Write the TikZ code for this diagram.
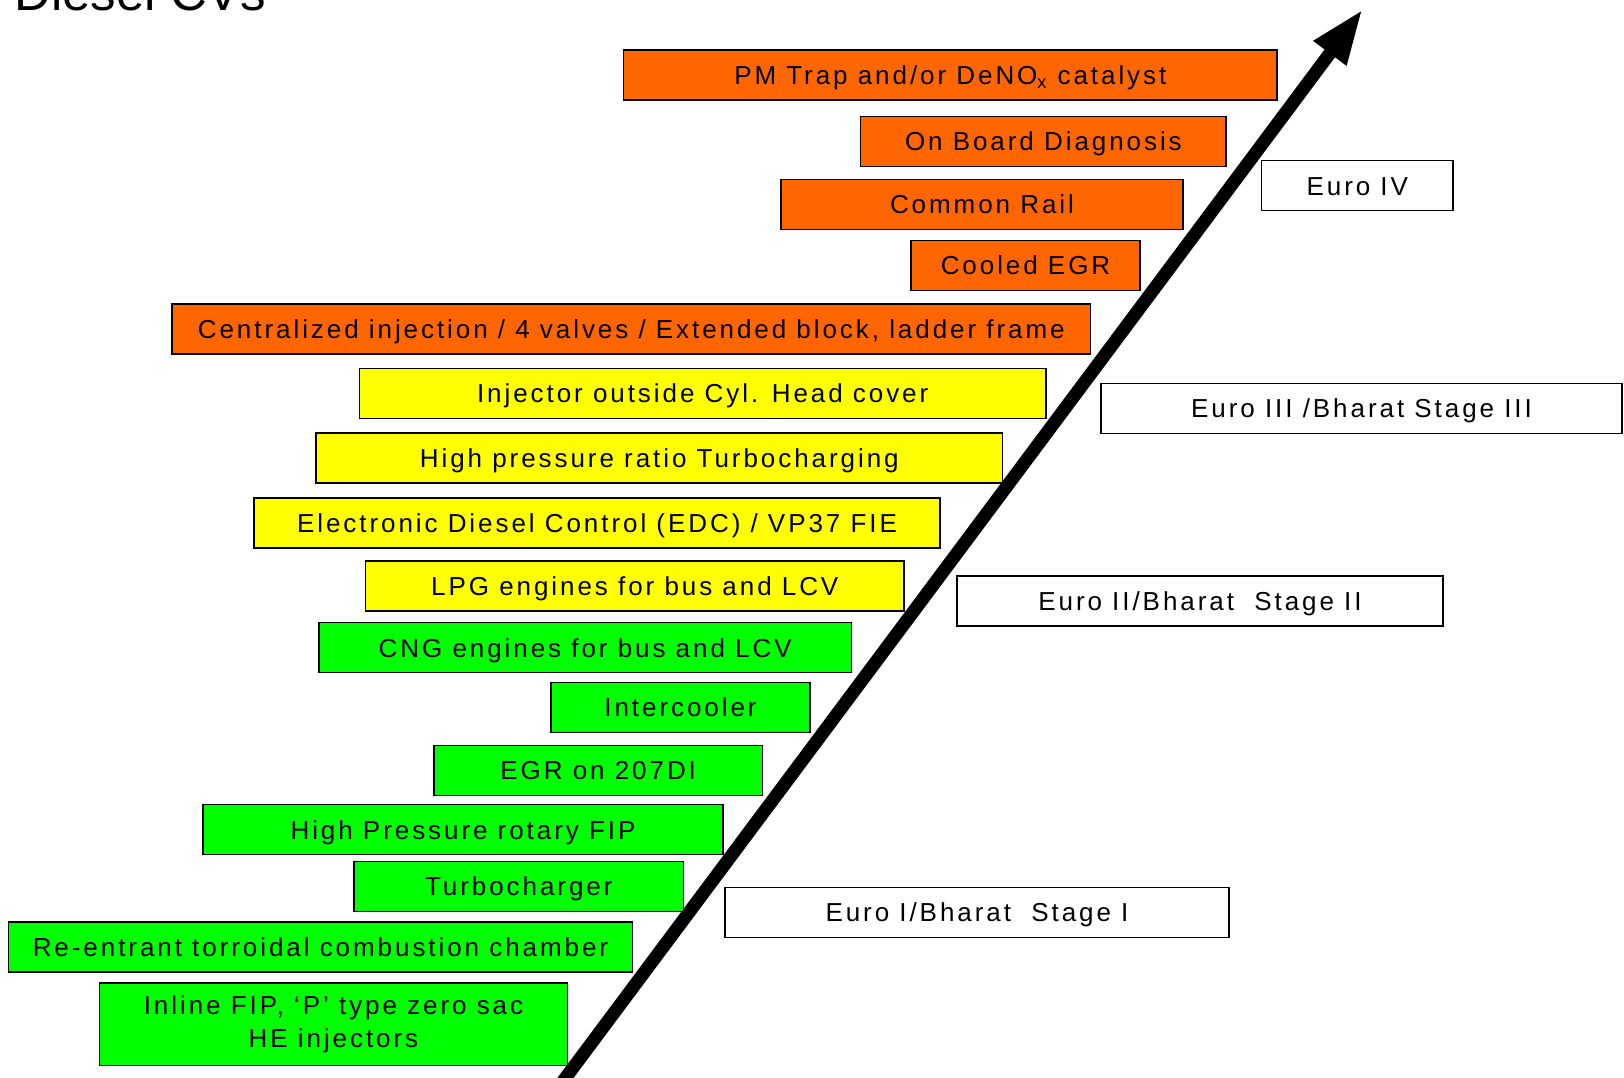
\documentclass[tikz,border=0pt]{standalone}
\usepackage{fontspec}
\setmainfont{Liberation Sans}
\newfontfamily\trk[LetterSpace=11.3]{Liberation Sans}
\usetikzlibrary{arrows.meta}
\definecolor{orng}{HTML}{FF6600}
\definecolor{yllw}{HTML}{FFFF00}
\definecolor{grn}{HTML}{00FF00}
\begin{document}
\begin{tikzpicture}[x=0.02cm,y=-0.02cm,
  basebox/.style={draw=black,line width=0.85pt,inner sep=0pt,minimum height=1.0cm,
     font=\trk\fontsize{14.8}{19}\selectfont,align=center},
  box/.style={basebox,text height=10.6pt,text depth=0pt},
  ob/.style={box,fill=orng},
  yb/.style={box,fill=yllw},
  gb/.style={box,fill=grn},
  eb/.style={box,fill=white}]
\useasboundingbox (0,0) rectangle (1624,1078);
\clip (0,0) rectangle (1624,1078);
\node[anchor=base west,font=\fontsize{29}{34}\selectfont,inner sep=0pt] (title) at (14,11) {Diesel CVs};

\node[ob,minimum width=13.07cm] (pm) at (950.3,75) {PM Trap and/or DeNO\textsubscript{x} catalyst};
\node[ob,minimum width=7.31cm] (obd) at (1043.4,141.4) {On Board Diagnosis};
\node[ob,minimum width=8.04cm] (cr) at (982,204.5) {Common Rail};
\node[ob,minimum width=4.58cm] (cegr) at (1025.5,265.5) {Cooled EGR};
\node[ob,minimum width=18.37cm] (cent) at (631.3,328.8) {Centralized injection / 4 valves / Extended block, ladder frame};
\node[yb,minimum width=13.73cm] (inj) at (702.7,393.5) {Injector outside Cyl. Head cover};
\node[yb,minimum width=13.73cm] (hpr) at (659.3,457.8) {High pressure ratio Turbocharging};
\node[yb,minimum width=13.73cm] (edc) at (597,523) {Electronic Diesel Control (EDC) / VP37 FIE};
\node[yb,minimum width=10.77cm] (lpg) at (634.8,586) {LPG engines for bus and LCV};
\node[gb,minimum width=10.65cm] (cng) at (585.2,647.7) {CNG engines for bus and LCV};
\node[gb,minimum width=5.18cm] (ic) at (680.5,707.3) {Intercooler};
\node[gb,minimum width=6.57cm] (egr) at (598.2,770.5) {EGR on 207DI};
\node[gb,minimum width=10.40cm] (hprot) at (463,829.7) {High Pressure rotary FIP};
\node[gb,minimum width=6.59cm] (tc) at (518.8,886.5) {Turbocharger};
\node[gb,minimum width=12.49cm] (re) at (320.5,947) {Re-entrant torroidal combustion chamber};
\node[basebox,fill=grn,minimum width=9.36cm,minimum height=1.65cm] (inl) at (333.5,1024.3) {Inline FIP, ‘P’ type zero sac\\HE injectors};

\node[eb,minimum width=3.83cm] (e4) at (1357.3,185.7) {Euro IV};
\node[eb,minimum width=10.42cm] (e3) at (1361.5,408.5) {Euro III /Bharat Stage III};
\node[eb,minimum width=9.72cm] (e2) at (1200,600.8) {Euro II/Bharat\ \ Stage II};
\node[eb,minimum width=10.08cm] (e1) at (977,912.3) {Euro I/Bharat\ \ Stage I};

\coordinate (a0) at (549,1100);
\coordinate (a1) at (1362.7,9.3);
\draw[line width=0.26cm,-{Triangle[length=1.1cm,width=0.75cm]}] (a0) -- (a1);
\end{tikzpicture}
\end{document}
